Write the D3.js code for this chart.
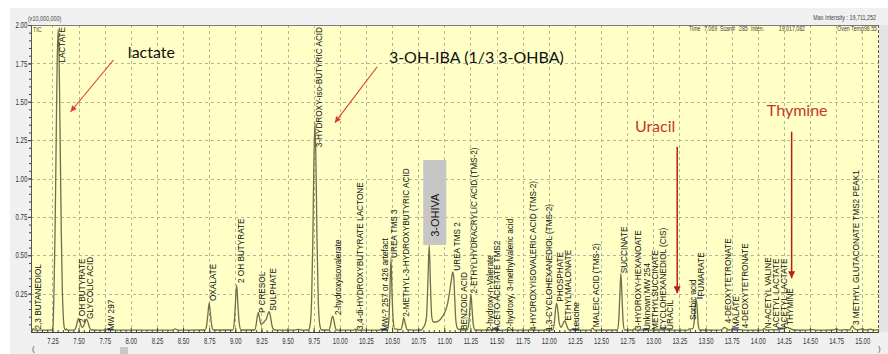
<!DOCTYPE html>
<html>
<head>
<meta charset="utf-8">
<script src="https://cdn.jsdelivr.net/npm/d3@7"></script>
<style>
  body { margin: 0; background: #fff; }
  svg { display: block; }
</style>
</head>
<body>
<svg id="chart" width="888" height="354"></svg>
<script>
// ---------- data ----------
// Total ion chromatogram: [retention time (min), intensity (x10,000,000)]
const trace = [
  [7.045,0.012],[7.055,0.013],[7.068,0.022],[7.08,0.013],[7.15,0.012],[7.22,0.012],
  [7.245,0.014],[7.255,0.03],[7.265,0.27],[7.275,0.64],[7.285,1.19],[7.295,1.74],[7.305,1.97],[7.315,1.74],[7.325,1.19],[7.335,0.64],[7.345,0.27],[7.355,0.09],[7.365,0.025],[7.375,0.013],
  [7.385,0.02],[7.395,0.012],
  [7.455,0.012],[7.475,0.03],[7.49,0.07],[7.50,0.089],[7.51,0.075],[7.525,0.04],[7.54,0.03],[7.555,0.05],[7.567,0.075],[7.577,0.083],[7.588,0.068],[7.605,0.03],[7.625,0.013],
  [7.70,0.012],[7.765,0.012],[7.775,0.02],[7.785,0.012],
  [8.10,0.012],[8.40,0.012],[8.425,0.02],[8.45,0.012],
  [8.71,0.013],[8.725,0.04],[8.737,0.11],[8.75,0.19],[8.763,0.11],[8.775,0.04],[8.79,0.013],
  [8.975,0.013],[8.99,0.06],[9.0,0.17],[9.013,0.306],[9.025,0.18],[9.037,0.06],[9.055,0.013],
  [9.185,0.013],[9.20,0.05],[9.21,0.10],[9.22,0.126],[9.232,0.09],[9.245,0.05],[9.26,0.055],[9.28,0.07],[9.30,0.09],[9.313,0.12],[9.325,0.132],[9.337,0.10],[9.35,0.045],[9.37,0.015],[9.39,0.012],
  [9.55,0.012],[9.60,0.017],[9.65,0.012],
  [9.70,0.013],[9.715,0.04],[9.73,0.2],[9.742,0.6],[9.752,1.1],[9.762,1.364],[9.772,1.1],[9.782,0.6],[9.794,0.2],[9.81,0.04],[9.825,0.013],
  [9.895,0.013],[9.91,0.04],[9.92,0.08],[9.931,0.104],[9.942,0.08],[9.955,0.035],[9.97,0.013],
  [10.13,0.012],[10.15,0.018],[10.17,0.012],
  [10.38,0.012],[10.393,0.018],[10.41,0.012],
  [10.455,0.013],[10.468,0.06],[10.478,0.22],[10.49,0.48],[10.50,0.25],[10.512,0.07],[10.525,0.02],
  [10.585,0.015],[10.60,0.05],[10.612,0.093],[10.625,0.06],[10.645,0.015],
  [10.70,0.012],[10.78,0.013],[10.80,0.03],[10.815,0.05],[10.83,0.1],[10.842,0.3],[10.856,0.567],[10.868,0.3],[10.88,0.1],[10.895,0.065],
  [10.92,0.065],[10.96,0.08],[11.00,0.12],[11.03,0.18],[11.055,0.28],[11.07,0.35],[11.08,0.39],[11.09,0.36],[11.10,0.22],[11.11,0.08],[11.125,0.025],[11.14,0.016],[11.152,0.02],[11.165,0.013],
  [11.22,0.014],[11.235,0.06],[11.245,0.16],[11.255,0.245],[11.265,0.16],[11.277,0.05],[11.295,0.013],
  [11.39,0.012],[11.40,0.016],[11.42,0.012],[11.46,0.012],[11.47,0.016],[11.48,0.012],[11.58,0.012],[11.59,0.016],[11.60,0.012],
  [11.80,0.012],[11.815,0.016],[11.83,0.012],[11.95,0.012],[11.963,0.016],[11.98,0.012],
  [12.04,0.014],[12.055,0.07],[12.065,0.15],[12.075,0.187],[12.087,0.14],[12.10,0.06],[12.12,0.03],[12.14,0.06],[12.155,0.074],[12.17,0.045],[12.19,0.015],
  [12.21,0.012],[12.221,0.017],[12.235,0.012],
  [12.40,0.012],[12.42,0.025],[12.44,0.012],
  [12.655,0.013],[12.668,0.06],[12.68,0.24],[12.69,0.382],[12.70,0.24],[12.712,0.06],[12.725,0.013],
  [12.80,0.012],[12.818,0.02],[12.835,0.012],[12.89,0.012],[12.90,0.016],[12.91,0.012],
  [13.04,0.012],[13.06,0.018],[13.08,0.013],[13.12,0.015],[13.14,0.012],
  [13.33,0.012],[13.345,0.02],[13.375,0.02],[13.39,0.06],[13.40,0.16],[13.41,0.21],[13.42,0.16],[13.43,0.05],[13.445,0.013],
  [13.62,0.012],[13.66,0.018],[13.68,0.03],[13.70,0.022],[13.73,0.013],[13.76,0.018],[13.78,0.012],[13.84,0.016],[13.86,0.012],
  [14.04,0.012],[14.06,0.022],[14.08,0.013],[14.14,0.016],[14.18,0.014],[14.21,0.018],[14.25,0.022],[14.28,0.03],[14.31,0.022],[14.35,0.013],
  [14.45,0.012],[14.52,0.016],[14.56,0.012],[14.72,0.013],[14.75,0.02],[14.78,0.012],[14.85,0.015],[14.88,0.013],[14.905,0.04],[14.925,0.02],[14.96,0.014],[15.0,0.02],[15.03,0.013],[15.08,0.018],[15.12,0.012],[15.16,0.015]
];

// Peak identifications: name, retention time, intensity the label stands on
const peakNames = [
  "2,3 BUTANEDIOL","LACTATE","2 OH BUTYRATE","GLYCOLIC ACID","MW 297","OXALATE","2 OH BUTYRATE",
  "P CRESOL","SULPHATE","3-HYDROXY-iso-BUTYRIC ACID","2-hydroxyisovalerate","3,4-di-HYDROXYBUTYRATE LACTONE",
  "MW-? 257 or 426 artefact","UREA TMS 3","2-METHYL-3-HYDROXYBUTYRIC ACID","UREA TMS 2","BENZOIC ACID",
  "2-ETHYLHYDRACRYLIC ACID (TMS-2)","2-hydroxy-n-Valerate","ACETO ACETATE TMS2","2-hydroxy, 3-methylvaleric acid",
  "4-HYDROXYISOVALERIC ACID (TMS-2)","1,3-CYCLOHEXANEDIOL (TMS-2)","PHOSPHATE","ETHYLMALONATE","Leucine",
  "MALEIC ACID (TMS-2)","SUCCINATE","3-HYDROXY-HEXANOATE","Unknown MW 254","METHYLSUCCINATE",
  "CYCLOHEXANEDIOL (CIS)","URACIL","Sorbic acid","FUMARATE","4-DEOXYTETRONATE","MALATE","4-DEOXYTETRONATE",
  "N-ACETYL VALINE","ACETYL LACTATE","ACETYL LACTATE","THYMINE","3 METHYL GLUTACONATE TMS2 PEAK1"
];
const peakTimes = [
  7.073,7.305,7.50,7.571,7.775,8.748,9.016,
  9.217,9.322,9.762,9.941,10.154,
  10.393,10.483,10.601,11.08,11.152,
  11.248,11.398,11.468,11.59,
  11.813,11.963,12.075,12.148,12.221,
  12.419,12.683,12.818,12.898,12.984,
  13.057,13.121,13.344,13.424,13.679,13.759,13.839,
  14.061,14.142,14.212,14.276,14.902
];
const peakLevels = [
  0.010,1.97,0.052,0.078,0.005,0.195,0.313,
  0.117,0.132,1.364,0.104,0.007,
  0.0,0.476,0.093,0.393,0.007,
  0.245,0.0,0.0,0.0,
  0.0,0.0,0.19,0.067,0.0,
  0.024,0.376,0.007,0.007,0.007,
  0.007,0.007,0.072,0.223,0.05,0.018,0.018,
  0.018,0.02,0.02,0.039,0.039
];

// Integration marks
const markTimes  = [7.775,10.393,11.468,12.221,12.90,13.07,13.415,13.76,14.19];
const markLevels = [0.012,0.012,0.013,0.013,0.013,0.02,0.215,0.013,0.018];

// Highlighted compound box
const boxName = "3-OHIVA";
const boxTime = 10.856;
const boxLevel = 0.567;

// Axis ticks
const xTicks = d3.range(32).map(i => 7.25 + i * 0.25);
const yTicks = [0.25,0.50,0.75,1.00,1.25,1.50,1.75,2.00];

// Status line
const maxIntensity = "19,711,252";
const statusTime = "7.069", statusScan = "285", statusInten = "19,017,082", statusOven = "96.55";

// Annotations: text position and arrow [from, to] in (time, intensity)
const noteTexts  = ["lactate","3-OH-IBA (1/3 3-OHBA)","Uracil","Thymine"];
const notePos    = [[7.972,1.788],[10.470,1.752],[12.824,1.303],[14.087,1.407]];
const noteArrows = [[[7.834,1.772],[7.424,1.435]],[[10.358,1.728],[9.953,1.364]],
                    [[13.229,1.207],[13.229,0.252]],[[14.324,1.305],[14.324,0.35]]];

// ---------- layout ----------
const plot = { left: 31, right: 879, top: 25, bottom: 332 };
const svg = d3.select("#chart");

const x = d3.scaleLinear().domain([7.045, 15.16]).range([plot.left, plot.right]);
const y = d3.scaleLinear().domain([0, 2]).range([plot.bottom, plot.top]);

// window panel
svg.append("rect").attr("x", 10).attr("y", 8).attr("width", 878).attr("height", 346).attr("fill", "#f0f0f0");
svg.append("rect").attr("x", plot.right).attr("y", plot.top).attr("width", 9).attr("height", plot.bottom - plot.top).attr("fill", "#e4e4e4");

// plot background
svg.append("rect")
  .attr("x", plot.left).attr("y", plot.top)
  .attr("width", plot.right - plot.left).attr("height", plot.bottom - plot.top)
  .attr("fill", "#ffffc6");

// dashed grid
const grid = svg.append("g").attr("stroke", "#b4b4a2").attr("stroke-dasharray", "3,3").attr("stroke-width", 1);
grid.selectAll("line.v").data(xTicks).join("line")
  .attr("x1", d => Math.round(x(d)) + 0.5).attr("x2", d => Math.round(x(d)) + 0.5)
  .attr("y1", plot.top).attr("y2", plot.bottom);
grid.selectAll("line.h").data(yTicks.filter(d => d < 2)).join("line")
  .attr("x1", plot.left).attr("x2", plot.right)
  .attr("y1", d => Math.round(y(d)) + 0.5).attr("y2", d => Math.round(y(d)) + 0.5);

// frame
svg.append("line").attr("x1", plot.left).attr("x2", plot.right).attr("y1", plot.top + 0.5).attr("y2", plot.top + 0.5).attr("stroke", "#7a7a7a");
svg.append("line").attr("x1", plot.right - 0.5).attr("x2", plot.right - 0.5).attr("y1", plot.top).attr("y2", plot.bottom)
  .attr("stroke", "#555").attr("stroke-dasharray", "3,2");

// clip
svg.append("clipPath").attr("id", "clip").append("rect")
  .attr("x", plot.left).attr("y", plot.top).attr("width", plot.right - plot.left).attr("height", plot.bottom - plot.top);

// trace
const line = d3.line().x(d => x(d[0])).y(d => y(d[1])).curve(d3.curveMonotoneX);
svg.append("path").datum(trace)
  .attr("clip-path", "url(#clip)")
  .attr("d", line).attr("fill", "none")
  .attr("stroke", "#6f6f4c").attr("stroke-width", 1.3).attr("stroke-linejoin", "round");

// integration marks
svg.append("g").selectAll("line").data(markTimes).join("line")
  .attr("x1", d => x(d)).attr("x2", d => x(d) + 6)
  .attr("y1", (d, i) => y(markLevels[i]) - 1).attr("y2", (d, i) => y(markLevels[i]) - 1)
  .attr("stroke", "#2a3fc0").attr("stroke-width", 1.4);

// axes
const tickFont = "'Liberation Sans', Arial, sans-serif";
const xAxis = svg.append("g").attr("transform", `translate(0,${plot.bottom})`)
  .call(d3.axisBottom(x).tickValues(xTicks).tickSize(-4).tickPadding(6).tickFormat(d3.format(".2f")));
xAxis.call(g => g.select(".domain").remove());
xAxis.selectAll(".tick line").attr("stroke", "#444");
xAxis.selectAll(".tick text").attr("font-family", tickFont).attr("font-size", 8.5)
  .attr("fill", "#333").attr("transform", "scale(0.7,1)");

const xMinor = svg.append("g").attr("transform", `translate(0,${plot.bottom})`)
  .call(d3.axisBottom(x).tickValues(d3.range(7.05, 15.16, 0.05)).tickSize(-2).tickFormat(""));
xMinor.call(g => g.select(".domain").remove());
xMinor.selectAll(".tick line").attr("stroke", "#444");

const yAxis = svg.append("g").attr("transform", `translate(${plot.left},0)`)
  .call(d3.axisLeft(y).tickValues(yTicks).tickSize(3).tickPadding(2).tickFormat(d3.format(".2f")));
yAxis.call(g => g.select(".domain").remove());
yAxis.selectAll(".tick line").attr("stroke", "#444");
yAxis.selectAll(".tick text").attr("font-family", tickFont).attr("font-size", 8.5)
  .attr("fill", "#333").attr("transform", "scale(0.72,1)");

const yMinor = svg.append("g").attr("transform", `translate(${plot.left},0)`)
  .call(d3.axisLeft(y).tickValues(d3.range(0.05, 2.0, 0.05)).tickSize(2).tickFormat(""));
yMinor.call(g => g.select(".domain").remove());
yMinor.selectAll(".tick line").attr("stroke", "#444");

svg.append("line").attr("x1", plot.left + 0.5).attr("x2", plot.left + 0.5).attr("y1", plot.top).attr("y2", plot.bottom).attr("stroke", "#555");
svg.append("line").attr("x1", plot.left).attr("x2", plot.right).attr("y1", plot.bottom + 0.5).attr("y2", plot.bottom + 0.5).attr("stroke", "#444");

// peak labels (rotated, standing on the peak; pushed down when they would leave the plot)
const labels = svg.append("g").attr("font-family", tickFont).attr("font-size", 8.2).attr("fill", "#111");
labels.selectAll("text").data(peakNames).join("text")
  .text(d => d)
  .attr("dy", "0.35em")
  .each(function (d, i) {
    const len = this.getComputedTextLength();
    let bottom = y(peakLevels[i]) - 1;
    if (bottom - len < plot.top + 2) bottom = plot.top + 2 + len;
    d3.select(this).attr("transform", `translate(${x(peakTimes[i]) + 4},${bottom}) rotate(-90)`);
  });

// highlighted compound box
const bx = x(boxTime) - 6, bw = 23, bh = 85, by = y(boxLevel) - bh;
svg.append("rect").attr("x", bx).attr("y", by).attr("width", bw).attr("height", bh).attr("fill", "#c6c6c6");
svg.append("text").text(boxName)
  .attr("transform", `translate(${bx + bw / 2},${by + bh * 0.65}) rotate(-90)`)
  .attr("text-anchor", "middle").attr("dy", "0.35em")
  .attr("font-family", tickFont).attr("font-size", 11).attr("fill", "#111");

// header texts, squeezed horizontally to the instrument's narrow font
const small = "'Liberation Sans', Arial, sans-serif";
function narrowText(str, x0, y0, s, anchor, size) {
  return svg.append("text").text(str)
    .attr("font-family", small).attr("font-size", size || 7.5).attr("fill", "#444")
    .attr("text-anchor", anchor || "start")
    .attr("transform", `translate(${x0},${y0}) scale(${s},1)`);
}
narrowText("(x10,000,000)", 28, 21, 0.72);
narrowText("TIC", 33, 32, 0.72);
narrowText("Max Intensity : " + maxIntensity, 876, 20, 0.72, "end");
[["Time", 689], [statusTime, 704], ["Scan#", 720], [statusScan, 739], ["Inten.", 751]]
  .forEach(d => narrowText(d[0], d[1], 31, 0.75, "start", 7));
narrowText(statusInten, 805, 31, 0.75, "end", 7);
narrowText("Oven Temp" + statusOven, 877, 31, 0.75, "end", 7);

// scroll bar hints
svg.append("rect").attr("x", 120).attr("y", 347).attr("width", 8).attr("height", 7).attr("fill", "#c8c8c8");
svg.append("text").text("(").attr("x", 32).attr("y", 351).attr("font-family", small).attr("font-size", 8).attr("fill", "#555");
svg.append("text").text(")").attr("x", 878).attr("y", 351).attr("font-family", small).attr("font-size", 8).attr("fill", "#555");

// annotations
const defs = svg.append("defs");
const arrowColors = ["#e2382c", "#e2382c", "#b81d1d", "#b81d1d"];
arrowColors.forEach((c, i) => {
  defs.append("marker").attr("id", "head" + i)
    .attr("viewBox", "0 0 10 10").attr("refX", 10).attr("refY", 5)
    .attr("markerWidth", 7).attr("markerHeight", i < 2 ? 6 : 7)
    .attr("markerUnits", "userSpaceOnUse").attr("orient", "auto")
    .append("path").attr("d", "M0,0 L10,5 L0,10 z").attr("fill", c);
});
const noteColors = ["#111", "#111", "#c0392b", "#c0392b"];
svg.append("g").selectAll("text").data(noteTexts).join("text")
  .text(d => d)
  .attr("x", (d, i) => x(notePos[i][0])).attr("y", (d, i) => y(notePos[i][1]))
  .attr("font-family", "Lato, 'Open Sans', sans-serif").attr("font-size", 16)
  .attr("fill", (d, i) => noteColors[i]);
svg.append("g").selectAll("line").data(noteArrows).join("line")
  .attr("x1", d => x(d[0][0])).attr("y1", d => y(d[0][1]))
  .attr("x2", d => x(d[1][0])).attr("y2", d => y(d[1][1]))
  .attr("stroke", (d, i) => arrowColors[i]).attr("stroke-width", (d, i) => i < 2 ? 1.1 : 1.5)
  .attr("marker-end", (d, i) => `url(#head${i})`);
</script>
</body>
</html>
